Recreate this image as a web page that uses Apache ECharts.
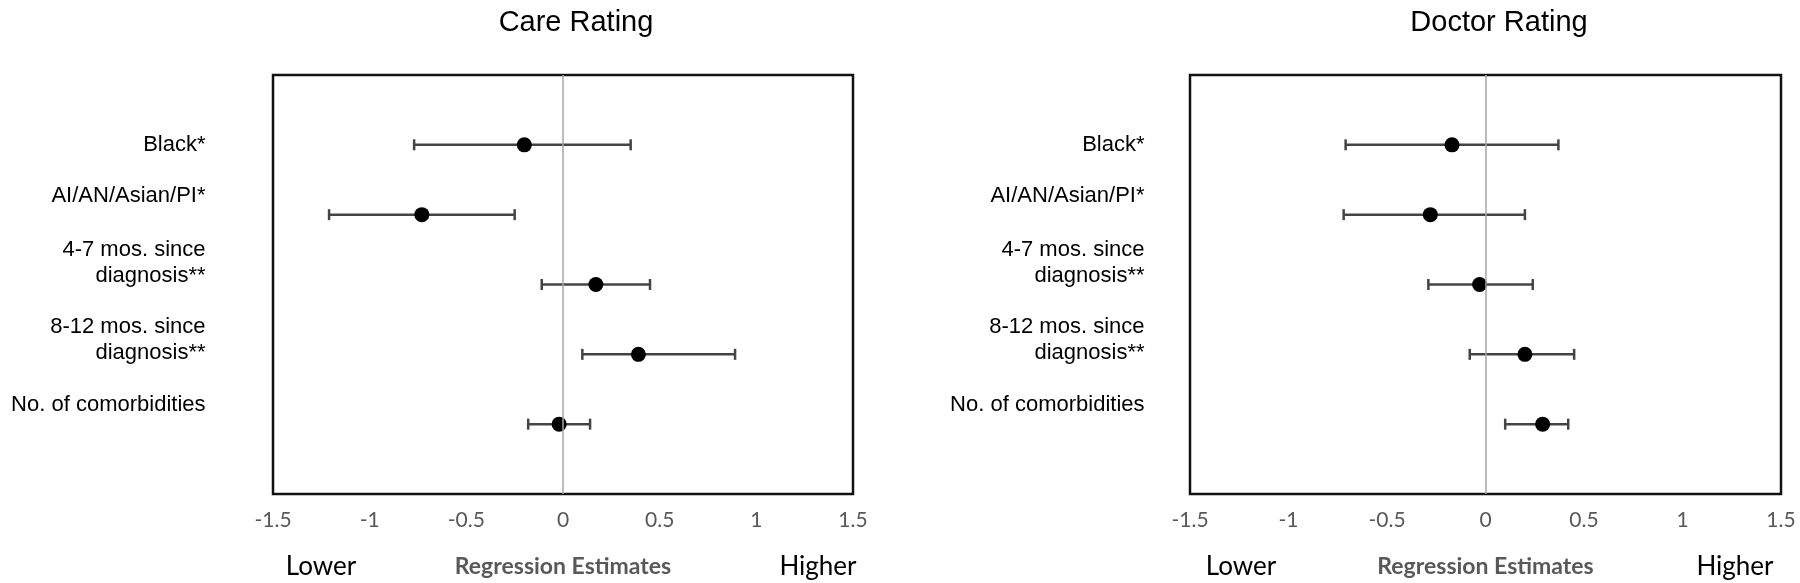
<!DOCTYPE html>
<html>
<head>
<meta charset="utf-8">
<script src="https://cdn.jsdelivr.net/npm/echarts@6.0.0/dist/echarts.min.js"></script>
<style>
html,body{margin:0;padding:0;background:#fff;}
#chart{width:1800px;height:583px;}
</style>
</head>
<body>
<div id="chart"></div>
<script>
// ---- data ----
const categories = ['Black*', 'AI/AN/Asian/PI*', '4-7 mos. since\ndiagnosis**', '8-12 mos. since\ndiagnosis**', 'No. of comorbidities'];
const panelTitles = ['Care Rating', 'Doctor Rating'];
const careEst  = [-0.20, -0.73, 0.17, 0.39, -0.02];
const careLow  = [-0.77, -1.21, -0.11, 0.10, -0.18];
const careHigh = [0.35, -0.25, 0.45, 0.89, 0.14];
const docEst   = [-0.17, -0.28, -0.03, 0.20, 0.29];
const docLow   = [-0.71, -0.72, -0.29, -0.08, 0.10];
const docHigh  = [0.37, 0.20, 0.24, 0.45, 0.42];
const axisName = 'Regression Estimates';
const lowText = 'Lower';
const highText = 'Higher';

// ---- layout ----
const grids = [
  {left: 273, top: 75, width: 580, height: 421, labelGap: 67, lowerX: 321, higherX: 818, titleX: 571},
  {left: 1190, top: 75, width: 591, height: 421, labelGap: 45, lowerX: 1241, higherX: 1735, titleX: 1494}
];
const labelShift = [0, -19, -22, -14, -19];

const chart = echarts.init(document.getElementById('chart'), null, {renderer: 'canvas'});

function errorBar(params, api) {
  const p1 = api.coord([api.value(0), api.value(2)]);
  const p2 = api.coord([api.value(1), api.value(2)]);
  const h = 5.5;
  const st = {stroke: '#444444', lineWidth: 2.5};
  return {
    type: 'group',
    children: [
      {type: 'line', shape: {x1: p1[0], y1: p1[1], x2: p2[0], y2: p2[1]}, style: st},
      {type: 'line', shape: {x1: p1[0], y1: p1[1] - h, x2: p1[0], y2: p1[1] + h}, style: st},
      {type: 'line', shape: {x1: p2[0], y1: p2[1] - h, x2: p2[0], y2: p2[1] + h}, style: st}
    ]
  };
}

const panels = [
  {est: careEst, low: careLow, high: careHigh},
  {est: docEst, low: docLow, high: docHigh}
];

const option = {
  animation: false,
  backgroundColor: '#fff',
  title: grids.map((g, i) => ({
    text: panelTitles[i],
    left: g.titleX,
    top: 3,
    textAlign: 'center',
    textStyle: {fontFamily: 'Liberation Sans', fontSize: 29, fontWeight: 'normal', color: '#000'}
  })),
  grid: grids.map(g => ({
    left: g.left, top: g.top, width: g.width, height: g.height,
    show: true, borderColor: '#111', borderWidth: 2.5, backgroundColor: '#fff'
  })),
  xAxis: grids.map((g, i) => ({
    type: 'value', gridIndex: i, min: -1.5, max: 1.5, interval: 0.5,
    axisLine: {show: false}, axisTick: {show: false}, splitLine: {show: false},
    axisLabel: {color: '#595959', fontFamily: 'Lato', fontSize: 21, margin: 16},
    name: axisName, nameLocation: 'middle', nameGap: 61,
    nameTextStyle: {color: '#595959', fontFamily: 'Lato', fontWeight: 'bold', fontSize: 23}
  })),
  yAxis: grids.map((g, i) => ({
    type: 'value', gridIndex: i, min: 0, max: 6, inverse: true, show: false
  })),
  graphic: grids.flatMap(g => [
    {type: 'text', x: g.lowerX, y: 567, style: {text: lowText, align: 'center', verticalAlign: 'middle', fontFamily: 'Lato', fontSize: 26, fill: '#000'}},
    {type: 'text', x: g.higherX, y: 567, style: {text: highText, align: 'center', verticalAlign: 'middle', fontFamily: 'Lato', fontSize: 26, fill: '#000'}}
  ]),
  series: panels.flatMap((p, i) => [
    {
      type: 'scatter', xAxisIndex: i, yAxisIndex: i, z: 1, silent: true,
      symbolSize: 1, itemStyle: {color: 'rgba(0,0,0,0)', opacity: 1},
      data: categories.map((c, k) => ({
        value: [-1.5, k + 1],
        label: {
          show: true, position: 'left', distance: grids[i].labelGap, offset: [0, labelShift[k]],
          formatter: c, align: 'right', lineHeight: 26, opacity: 1,
          fontFamily: 'Liberation Sans', fontSize: 22, color: '#000'
        }
      })),
      markLine: {
        silent: true, symbol: ['none', 'none'], label: {show: false},
        lineStyle: {color: '#a6a6a6', width: 1.5, type: 'solid', opacity: 1},
        data: [{xAxis: 0}]
      }
    },
    {
      type: 'custom', xAxisIndex: i, yAxisIndex: i, z: 3,
      renderItem: errorBar,
      encode: {x: [0, 1], y: 2},
      data: p.low.map((l, k) => [l, p.high[k], k + 1])
    },
    {
      type: 'scatter', xAxisIndex: i, yAxisIndex: i, z: 4,
      symbol: 'circle', symbolSize: 15, itemStyle: {color: '#000', opacity: 1},
      data: p.est.map((v, k) => [v, k + 1])
    }
  ])
};
chart.setOption(option);
</script>
</body>
</html>
